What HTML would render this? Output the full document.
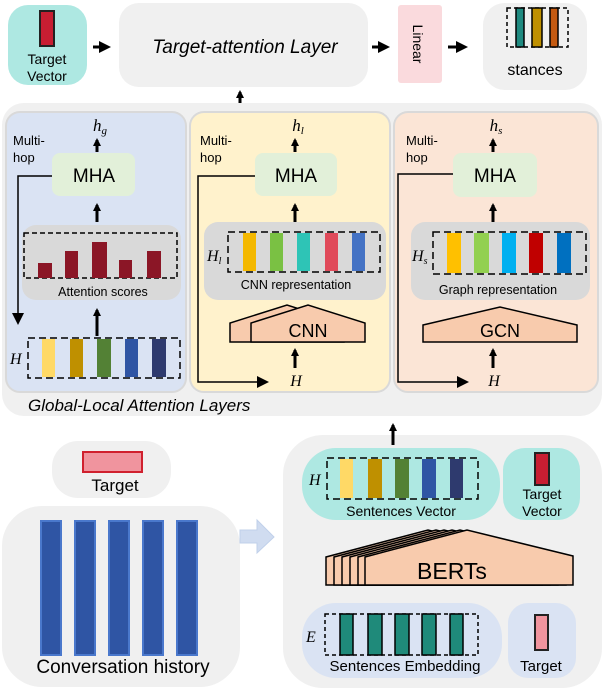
<!DOCTYPE html>
<html><head><meta charset="utf-8"><style>
html,body{margin:0;padding:0;background:#fff;}
svg{display:block;font-family:"Liberation Sans",Arial,sans-serif;}
.it{font-family:"Liberation Serif",serif;font-style:italic;}
</style></head><body>
<svg width="604" height="688" viewBox="0 0 604 688" xmlns="http://www.w3.org/2000/svg">
<defs>
<marker id="ah" markerWidth="8" markerHeight="8" refX="6" refY="4" orient="auto" markerUnits="userSpaceOnUse"><path d="M0,0 L8,4 L0,8 z" fill="#000"/></marker>
<marker id="ahb" markerWidth="12" markerHeight="12" refX="9" refY="6" orient="auto" markerUnits="userSpaceOnUse"><path d="M0,0 L12,6 L0,12 z" fill="#000"/></marker>
</defs>

<!-- TOP ROW -->
<rect x="8" y="5" width="79" height="80" rx="20" fill="#aee8e2"/>
<rect x="40" y="11" width="14" height="35" fill="#c81e32" stroke="#222" stroke-width="2"/>
<text x="47" y="64" font-size="14" text-anchor="middle">Target</text>
<text x="47" y="81" font-size="14" text-anchor="middle">Vector</text>
<line x1="93" y1="47" x2="108" y2="47" stroke="#000" stroke-width="3" marker-end="url(#ahb)"/>
<rect x="119" y="3" width="249" height="84" rx="20" fill="#f0f0f0"/>
<text x="245" y="53" font-size="19" font-style="italic" text-anchor="middle">Target-attention Layer</text>
<line x1="372" y1="47" x2="387" y2="47" stroke="#000" stroke-width="3" marker-end="url(#ahb)"/>
<rect x="398" y="5" width="44" height="78" rx="3" fill="#fadadd"/>
<text transform="translate(413,44) rotate(90)" font-size="14" text-anchor="middle">Linear</text>
<line x1="448" y1="47" x2="465" y2="47" stroke="#000" stroke-width="3" marker-end="url(#ahb)"/>
<rect x="483" y="3" width="104" height="87" rx="22" fill="#f0f0f0"/>
<rect x="507" y="8" width="61" height="39" fill="none" stroke="#000" stroke-width="1.5" stroke-dasharray="4,3"/>
<rect x="516" y="8" width="8" height="39" fill="#1f8a80" stroke="#000" stroke-width="1.5"/>
<rect x="532" y="8" width="10" height="39" fill="#bf9000" stroke="#000" stroke-width="1.5"/>
<rect x="550" y="8" width="8" height="39" fill="#c55a11" stroke="#000" stroke-width="1.5"/>
<text x="535" y="75" font-size="16" text-anchor="middle">stances</text>
<line x1="240" y1="103" x2="240" y2="92" stroke="#000" stroke-width="3" marker-end="url(#ah)"/>

<!-- GLOBAL-LOCAL -->
<rect x="2" y="103" width="600" height="313" rx="22" fill="#f0f0f0"/>
<text x="28" y="411" font-size="17" font-style="italic">Global-Local Attention Layers</text>

<!-- blue panel -->
<rect x="6" y="112" width="180" height="280" rx="14" fill="#dae3f3" stroke="#d9d9d9" stroke-width="2"/>
<text x="100" y="131" font-size="17" class="it" text-anchor="middle">h<tspan font-size="11" dy="3">g</tspan></text>
<line x1="97" y1="152" x2="97" y2="140" stroke="#000" stroke-width="3" marker-end="url(#ah)"/>
<text x="13" y="145" font-size="13">Multi-</text><text x="13" y="162" font-size="13">hop</text>
<rect x="52" y="153" width="83" height="43" rx="8" fill="#e2f0d9"/>
<text x="94" y="182" font-size="19" text-anchor="middle">MHA</text>
<polyline points="52,176 18,176 18,322" fill="none" stroke="#000" stroke-width="1.5" marker-end="url(#ahb)"/>
<line x1="97" y1="222" x2="97" y2="205" stroke="#000" stroke-width="3" marker-end="url(#ah)"/>
<rect x="22" y="225" width="159" height="75" rx="14" fill="#d9d9d9"/>
<rect x="24" y="233" width="153" height="45" fill="none" stroke="#000" stroke-width="1.5" stroke-dasharray="5,3"/>
<rect x="38" y="263" width="14" height="15" fill="#8b1626"/>
<rect x="65" y="251" width="13" height="27" fill="#8b1626"/>
<rect x="92" y="242" width="15" height="36" fill="#8b1626"/>
<rect x="119" y="260" width="13" height="18" fill="#8b1626"/>
<rect x="147" y="251" width="14" height="27" fill="#8b1626"/>
<text x="103" y="296" font-size="12.5" text-anchor="middle">Attention scores</text>
<line x1="97" y1="336" x2="97" y2="310" stroke="#000" stroke-width="3" marker-end="url(#ah)"/>
<text x="10" y="364" font-size="16" class="it">H</text>
<rect x="28" y="338" width="152" height="40" fill="none" stroke="#000" stroke-width="1.5" stroke-dasharray="7,4"/>
<rect x="42" y="339" width="13" height="38" fill="#ffd966"/>
<rect x="70" y="339" width="13" height="38" fill="#bf9000"/>
<rect x="97" y="339" width="14" height="38" fill="#538135"/>
<rect x="125" y="339" width="13" height="38" fill="#2f55a4"/>
<rect x="152" y="339" width="14" height="38" fill="#2e3a6e"/>

<!-- yellow panel -->
<rect x="190" y="112" width="200" height="280" rx="14" fill="#fff2cc" stroke="#d9d9d9" stroke-width="2"/>
<text x="298" y="131" font-size="17" class="it" text-anchor="middle">h<tspan font-size="11" dy="3">l</tspan></text>
<line x1="295" y1="152" x2="295" y2="140" stroke="#000" stroke-width="3" marker-end="url(#ah)"/>
<text x="200" y="145" font-size="13">Multi-</text><text x="200" y="162" font-size="13">hop</text>
<rect x="255" y="153" width="82" height="43" rx="8" fill="#e2f0d9"/>
<text x="296" y="182" font-size="19" text-anchor="middle">MHA</text>
<polyline points="255,176 198,176 198,382 266,382" fill="none" stroke="#000" stroke-width="1.5" marker-end="url(#ahb)"/>
<line x1="295" y1="222" x2="295" y2="205" stroke="#000" stroke-width="3" marker-end="url(#ah)"/>
<rect x="204" y="222" width="182" height="78" rx="14" fill="#d9d9d9"/>
<rect x="228" y="232" width="152" height="40" fill="none" stroke="#000" stroke-width="1.5" stroke-dasharray="7,4"/>
<rect x="243" y="233" width="13" height="38" fill="#f4b800"/>
<rect x="270" y="233" width="13" height="38" fill="#7ac143"/>
<rect x="297" y="233" width="13" height="38" fill="#2ec4b6"/>
<rect x="325" y="233" width="13" height="38" fill="#e04a5a"/>
<rect x="352" y="233" width="13" height="38" fill="#4472c4"/>
<text x="207" y="261" font-size="16" class="it">H<tspan font-size="10" dy="3">l</tspan></text>
<text x="296" y="289" font-size="12.5" text-anchor="middle">CNN representation</text>
<polygon points="230,342 230,323 287,305 344,323 344,342" fill="#f8cbad" stroke="#000" stroke-width="1.5"/>
<polygon points="251,342 251,323 308,305 365,323 365,342" fill="#f8cbad" stroke="#000" stroke-width="1.5"/>
<text x="308" y="337" font-size="18" text-anchor="middle">CNN</text>
<line x1="295" y1="368" x2="295" y2="350" stroke="#000" stroke-width="3" marker-end="url(#ah)"/>
<text x="296" y="386" font-size="16" class="it" text-anchor="middle">H</text>

<!-- peach panel -->
<rect x="394" y="112" width="204" height="280" rx="14" fill="#fbe5d6" stroke="#d9d9d9" stroke-width="2"/>
<text x="496" y="131" font-size="17" class="it" text-anchor="middle">h<tspan font-size="11" dy="3">s</tspan></text>
<line x1="493" y1="152" x2="493" y2="140" stroke="#000" stroke-width="3" marker-end="url(#ah)"/>
<text x="406" y="145" font-size="13">Multi-</text><text x="406" y="162" font-size="13">hop</text>
<rect x="453" y="153" width="84" height="44" rx="8" fill="#e2f0d9"/>
<text x="495" y="182" font-size="19" text-anchor="middle">MHA</text>
<polyline points="453,174 398,174 398,382 466,382" fill="none" stroke="#000" stroke-width="1.5" marker-end="url(#ahb)"/>
<line x1="493" y1="222" x2="493" y2="205" stroke="#000" stroke-width="3" marker-end="url(#ah)"/>
<rect x="411" y="222" width="179" height="78" rx="14" fill="#d9d9d9"/>
<rect x="433" y="232" width="153" height="42" fill="none" stroke="#000" stroke-width="1.5" stroke-dasharray="7,4"/>
<rect x="447" y="233" width="14" height="40" fill="#ffc000"/>
<rect x="474" y="233" width="15" height="40" fill="#92d050"/>
<rect x="502" y="233" width="14" height="40" fill="#00b0f0"/>
<rect x="529" y="233" width="14" height="40" fill="#c00000"/>
<rect x="557" y="233" width="14" height="40" fill="#0070c0"/>
<text x="412" y="261" font-size="16" class="it">H<tspan font-size="10" dy="3">s</tspan></text>
<text x="498" y="294" font-size="12.5" text-anchor="middle">Graph representation</text>
<polygon points="423,342 423,325 500,307 577,325 577,342" fill="#f8cbad" stroke="#000" stroke-width="1.5"/>
<text x="500" y="337" font-size="18" text-anchor="middle">GCN</text>
<line x1="493" y1="368" x2="493" y2="350" stroke="#000" stroke-width="3" marker-end="url(#ah)"/>
<text x="494" y="386" font-size="16" class="it" text-anchor="middle">H</text>

<!-- BOTTOM LEFT -->
<rect x="52" y="441" width="119" height="57" rx="26" fill="#f0f0f0"/>
<rect x="83" y="452" width="59" height="20" fill="#f0949e" stroke="#d0202e" stroke-width="2"/>
<text x="115" y="491" font-size="17" text-anchor="middle">Target</text>
<rect x="2" y="506" width="238" height="181" rx="40" fill="#f0f0f0"/>
<g fill="#2f55a4" stroke="#4a78cc" stroke-width="2">
<rect x="41" y="521" width="20" height="134"/>
<rect x="75" y="521" width="20" height="134"/>
<rect x="109" y="521" width="20" height="134"/>
<rect x="143" y="521" width="20" height="134"/>
<rect x="177" y="521" width="20" height="134"/>
</g>
<text x="123" y="673" font-size="19" text-anchor="middle">Conversation history</text>
<polygon points="240,530 257,530 257,520 274,537 257,553 257,543 240,543" fill="#d0dcf0" stroke="#c0d0ea" stroke-width="1"/>

<!-- BOTTOM RIGHT -->
<rect x="283" y="435" width="319" height="253" rx="40" fill="#f0f0f0"/>
<line x1="393" y1="445" x2="393" y2="425" stroke="#000" stroke-width="3" marker-end="url(#ah)"/>
<rect x="302" y="448" width="198" height="72" rx="34" fill="#aee8e2"/>
<rect x="327" y="458" width="151" height="41" fill="none" stroke="#000" stroke-width="1.5" stroke-dasharray="7,4"/>
<rect x="340" y="459" width="13" height="39" fill="#ffd966"/>
<rect x="368" y="459" width="14" height="39" fill="#bf9000"/>
<rect x="395" y="459" width="14" height="39" fill="#538135"/>
<rect x="422" y="459" width="14" height="39" fill="#2f55a4"/>
<rect x="450" y="459" width="13" height="39" fill="#2e3a6e"/>
<text x="309" y="485" font-size="16" class="it">H</text>
<text x="401" y="516" font-size="14" text-anchor="middle">Sentences  Vector</text>
<rect x="503" y="448" width="77" height="72" rx="22" fill="#aee8e2"/>
<rect x="535" y="453" width="14" height="32" fill="#c81e32" stroke="#222" stroke-width="2"/>
<text x="542" y="499" font-size="14" text-anchor="middle">Target</text>
<text x="542" y="516" font-size="14" text-anchor="middle">Vector</text>

<g fill="#f8cbad" stroke="#000" stroke-width="1.5">
<polygon points="326,585 326,557 428,530 534,556 534,585"/>
<polygon points="334,585 334,557 436,530 542,556 542,585"/>
<polygon points="342,585 342,557 444,530 550,556 550,585"/>
<polygon points="350,585 350,557 452,530 558,556 558,585"/>
<polygon points="358,585 358,557 460,530 566,556 566,585"/>
<polygon points="365,585 365,557 467,530 573,556 573,585"/>
</g>
<text x="452" y="579" font-size="23" text-anchor="middle">BERTs</text>

<rect x="302" y="603" width="200" height="75" rx="34" fill="#dae3f3"/>
<rect x="325" y="614" width="153" height="41" fill="none" stroke="#000" stroke-width="1.5" stroke-dasharray="4,3"/>
<g fill="#1f8a7a" stroke="#000" stroke-width="1.5">
<rect x="340" y="614" width="13" height="41"/>
<rect x="368" y="614" width="14" height="41"/>
<rect x="395" y="614" width="14" height="41"/>
<rect x="422" y="614" width="14" height="41"/>
<rect x="450" y="614" width="13" height="41"/>
</g>
<text x="306" y="642" font-size="16" class="it">E</text>
<text x="405" y="671" font-size="15" text-anchor="middle">Sentences Embedding</text>
<rect x="508" y="603" width="68" height="75" rx="20" fill="#dae3f3"/>
<rect x="535" y="615" width="13" height="35" fill="#f0949e" stroke="#222" stroke-width="2"/>
<text x="541" y="671" font-size="15" text-anchor="middle">Target</text>
</svg>
</body></html>
